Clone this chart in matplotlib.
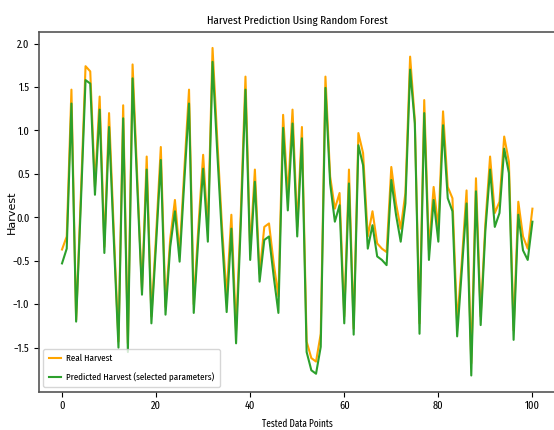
import matplotlib
matplotlib.use("Agg")

import matplotlib.pyplot as plt


# values
points = list(range(101))

real_harvest = [
    -0.37, -0.22, 1.47, -1.18, 0.25, 1.74, 1.68, 0.35, 1.39, -0.34,
    1.20, -0.15, -1.43, 1.29, -1.45, 1.76, 0.45, -0.84, 0.70, -1.14,
    -0.20, 0.81, -1.03, -0.25, 0.20, -0.41, 0.55, 1.47, -1.00, -0.10,
    0.72, -0.15, 1.95, 0.90, -0.10, -0.91, 0.03, -1.30, 0.05, 1.62,
    -0.38, 0.55, -0.65, -0.11, -0.07, -0.53, -0.91, 1.18, 0.24, 1.24,
    -0.11, 1.04, -1.43, -1.62, -1.66, -1.34, 1.62, 0.47, 0.10, 0.28,
    -1.14, 0.55, -1.28, 0.97, 0.74, -0.22, 0.07, -0.30, -0.36, -0.40,
    0.58, 0.16, -0.13, 0.28, 1.85, 1.12, -1.22, 1.35, -0.38, 0.35,
    -0.13, 1.22, 0.35, 0.22, -1.22, -0.50, 0.31, -1.68, 0.45, -1.14,
    -0.07, 0.70, 0.05, 0.18, 0.93, 0.64, -1.30, 0.18, -0.22, -0.36,
    0.10,
]

predicted_harvest = [
    -0.53, -0.36, 1.31, -1.20, 0.15, 1.58, 1.54, 0.26, 1.24, -0.41,
    1.04, -0.25, -1.50, 1.14, -1.55, 1.60, 0.35, -0.89, 0.55, -1.22,
    -0.30, 0.66, -1.12, -0.34, 0.07, -0.51, 0.42, 1.31, -1.10, -0.22,
    0.56, -0.28, 1.79, 0.75, -0.22, -1.09, -0.13, -1.45, -0.08, 1.47,
    -0.49, 0.41, -0.74, -0.26, -0.22, -0.68, -1.10, 1.03, 0.08, 1.08,
    -0.22, 0.91, -1.55, -1.76, -1.80, -1.49, 1.49, 0.39, -0.05, 0.14,
    -1.22, 0.39, -1.35, 0.83, 0.60, -0.36, -0.09, -0.45, -0.49, -0.55,
    0.43, 0.03, -0.28, 0.16, 1.70, 1.08, -1.34, 1.20, -0.49, 0.20,
    -0.28, 1.06, 0.22, 0.07, -1.37, -0.60, 0.16, -1.82, 0.30, -1.24,
    -0.15, 0.55, -0.11, 0.05, 0.79, 0.51, -1.41, 0.03, -0.38, -0.49,
    -0.05,
]

x_ticks = [0, 20, 40, 60, 80, 100]
y_ticks = [-1.5, -1.0, -0.5, 0.0, 0.5, 1.0, 1.5, 2.0]

# narrow fonts first, plain sans as the fallback
narrow = ["Fira Sans Extra Condensed", "Roboto Condensed", "Liberation Sans Narrow",
          "Liberation Sans", "DejaVu Sans"]

fig = plt.figure(figsize=(5.54, 4.30), dpi=100)
# right edge of the frame runs just past the picture, as in the original
ax = fig.add_axes([0.0695, 0.0884, 0.934, 0.8365])

ax.plot(points, real_harvest, color="orange", linewidth=1.5, label="Real Harvest")
ax.plot(points, predicted_harvest, color="#2ca02c", linewidth=1.5,
        label="Predicted Harvest (selected parameters)")

ax.set_xlim(-5, 105)
ax.set_ylim(-2.01, 2.13)
ax.set_xticks(x_ticks)
ax.set_yticks(y_ticks)
ax.tick_params(length=3.5, pad=3)
for lab in ax.get_xticklabels() + ax.get_yticklabels():
    lab.set_fontsize(8)
    lab.set_fontfamily(narrow)

ax.set_title("Harvest Prediction Using Random Forest", fontsize=8.5, pad=6,
             family=narrow)
ax.set_xlabel("Tested Data Points", fontsize=7.2, family=narrow)
ax.xaxis.set_label_coords(0.5, -0.075)
ax.set_ylabel("Harvest", fontsize=8, family="DejaVu Sans")
ax.yaxis.set_label_coords(-0.041, 0.5)

for s in ax.spines.values():
    s.set_color("#555555")
    s.set_linewidth(1.2)

ax.legend(loc="lower left", prop={"family": narrow, "size": 7},
          handlelength=1.3, handletextpad=0.5, borderpad=0.55,
          labelspacing=0.9, borderaxespad=0.5)

plt.savefig("out.png", dpi=100)
plt.close()
